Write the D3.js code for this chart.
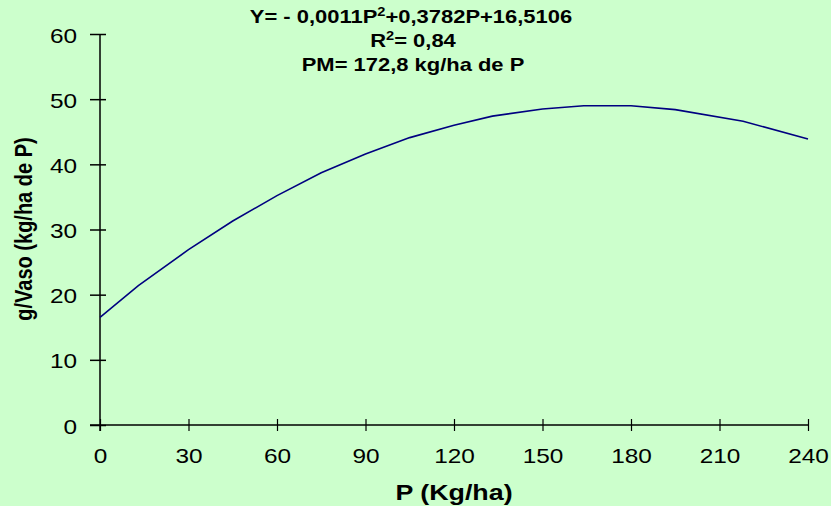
<!DOCTYPE html>
<html>
<head>
<meta charset="utf-8">
<script src="https://cdn.jsdelivr.net/npm/d3@7"></script>
<style>
  html, body { margin: 0; padding: 0; background: #ccffcc; }
  svg { display: block; font-family: "Liberation Sans", Arial, sans-serif; }
</style>
</head>
<body>
<svg id="chart" width="831" height="506"></svg>
<script>
// Fitted response of dry matter to phosphorus dose
const doseP = [0, 13, 30, 45, 60, 75, 90, 105, 120, 133, 150, 164, 180, 195, 218, 240];
const yieldG = [16.5, 21.4, 26.9, 31.3, 35.2, 38.7, 41.6, 44.1, 46.0, 47.4, 48.5, 49.0, 49.0, 48.4, 46.6, 43.9];
const xTicks = [0, 30, 60, 90, 120, 150, 180, 210, 240];
const yTicks = [0, 10, 20, 30, 40, 50, 60];

const svg = d3.select("#chart");
const plotL = 100, plotR = 808, plotT = 34, plotB = 425;
const wide = 1.22;   // horizontal stretch of the lettering
const fontFam = "Liberation Sans, Arial, sans-serif";

const x = d3.scaleLinear().domain([0, 240]).range([plotL, plotR]);
const y = d3.scaleLinear().domain([0, 60]).range([plotB, plotT]);

// y axis with ticks crossing the line
const yAxis = svg.append("g").attr("transform", `translate(${plotL},0)`)
  .call(d3.axisLeft(y).tickValues(yTicks).tickSize(10).tickSizeOuter(0));
yAxis.select(".domain").remove();
yAxis.selectAll(".tick line").attr("x2", 6).attr("x1", -10).attr("stroke", "#000").attr("stroke-width", 1.5);
yAxis.selectAll(".tick text").attr("font-size", 20).attr("fill", "#000").attr("font-family", fontFam)
  .attr("x", -23 / wide).attr("dy", "0.4em").attr("transform", `scale(${wide},1)`);
svg.append("line").attr("x1", plotL).attr("x2", plotL).attr("y1", plotT).attr("y2", plotB + 6)
  .attr("stroke", "#000").attr("stroke-width", 1.5);

// x axis
const xAxis = svg.append("g").attr("transform", `translate(0,${plotB})`)
  .call(d3.axisBottom(x).tickValues(xTicks).tickSize(6).tickSizeOuter(0));
xAxis.select(".domain").remove();
xAxis.selectAll(".tick line").attr("y1", -6).attr("y2", 6).attr("stroke", "#000").attr("stroke-width", 1.2);
xAxis.selectAll(".tick text").attr("font-size", 20).attr("fill", "#000").attr("font-family", fontFam)
  .attr("y", 38).attr("dy", 0).attr("transform", `scale(${wide},1)`);
svg.append("line").attr("x1", plotL - 10).attr("x2", plotR).attr("y1", plotB).attr("y2", plotB)
  .attr("stroke", "#000").attr("stroke-width", 1.5);

// response curve
const line = d3.line().x((d, i) => x(doseP[i])).y(d => y(d));
svg.append("path").datum(yieldG).attr("d", line)
  .attr("fill", "none").attr("stroke", "#000080").attr("stroke-width", 1.6);

// stretched, centred text helper
function label(cx, cy, size, rotate) {
  const g = svg.append("g")
    .attr("transform", `translate(${cx},${cy}) scale(${wide},1)` + (rotate ? " rotate(-90)" : ""));
  return g.append("text").attr("text-anchor", "middle").attr("font-size", size)
    .attr("font-weight", "bold").attr("fill", "#000");
}

// axis titles
label(454, 500, 22).text("P (Kg/ha)");
label(32, 229, 20, true).text("g/Vaso (kg/ha de P)");

// regression annotation
const t1 = label(411, 23, 18);
t1.append("tspan").text("Y= - 0,0011P");
t1.append("tspan").attr("font-size", 12).attr("dy", -7).text("2");
t1.append("tspan").attr("dy", 7).text("+0,3782P+16,5106");
const t2 = label(413, 47, 18);
t2.append("tspan").text("R");
t2.append("tspan").attr("font-size", 12).attr("dy", -7).text("2");
t2.append("tspan").attr("dy", 7).text("= 0,84");
label(413, 71, 18).text("PM= 172,8 kg/ha de P");
</script>
</body>
</html>
